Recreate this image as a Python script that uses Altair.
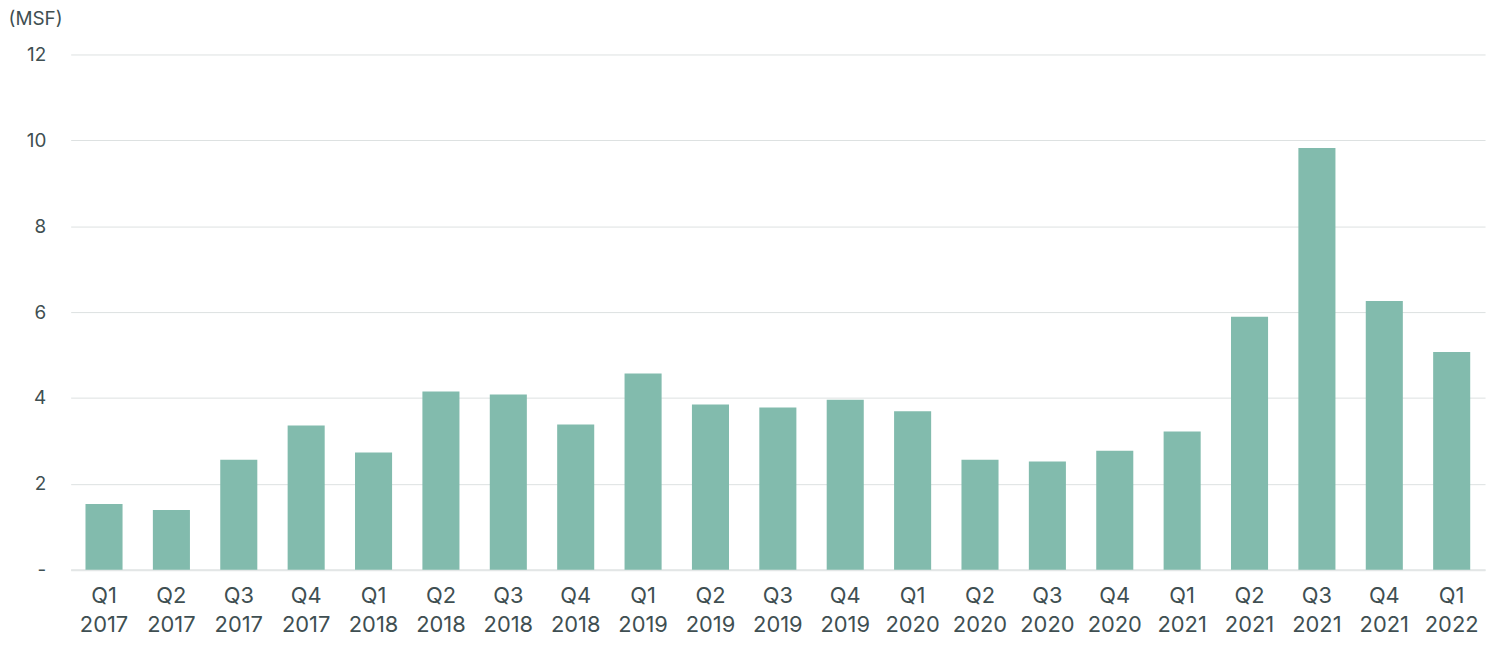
import altair as alt
import pandas as pd

quarters = ["Q1 2017", "Q2 2017", "Q3 2017", "Q4 2017",
            "Q1 2018", "Q2 2018", "Q3 2018", "Q4 2018",
            "Q1 2019", "Q2 2019", "Q3 2019", "Q4 2019",
            "Q1 2020", "Q2 2020", "Q3 2020", "Q4 2020",
            "Q1 2021", "Q2 2021", "Q3 2021", "Q4 2021",
            "Q1 2022"]
values = [1.53, 1.39, 2.56, 3.36,
          2.73, 4.15, 4.08, 3.38,
          4.57, 3.85, 3.78, 3.96,
          3.69, 2.56, 2.52, 2.77,
          3.22, 5.89, 9.82, 6.26,
          5.07]

df = pd.DataFrame({"quarter": quarters, "value": values})

font = "Inter"
text_color = "#3f4f52"

chart = alt.Chart(df).mark_bar(color="#82bbad").encode(
    x=alt.X("quarter:N", sort=quarters, title=None,
            scale=alt.Scale(paddingInner=0.45, paddingOuter=0.22),
            axis=alt.Axis(labelExpr="split(datum.label, ' ')", labelAngle=0,
                          labelFontSize=22, labelLineHeight=29, labelPadding=16,
                          labelColor=text_color, labelFont=font,
                          domain=True, domainColor="#e3e6e6", domainWidth=2,
                          ticks=False, grid=False)),
    y=alt.Y("value:Q", title="(MSF)",
            scale=alt.Scale(domain=[0, 12], nice=False),
            axis=alt.Axis(values=[0, 2, 4, 6, 8, 10, 12],
                          labelExpr="datum.value == 0 ? '-' : datum.label",
                          labelFontSize=19, labelColor=text_color, labelFont=font,
                          labelPadding=25, domain=False, ticks=False,
                          gridColor="#dde1e1", gridWidth=1,
                          titleAngle=0, titleAlign="left", titleBaseline="middle",
                          titleX=-63, titleY=-36, titleFontSize=19,
                          titleFontWeight="normal", titleColor=text_color,
                          titleFont=font)),
).properties(
    width=1422, height=518,
    padding={"left": 63, "top": 45, "right": 7, "bottom": 78},
    autosize=alt.AutoSizeParams(type="none"),
).configure_view(stroke=None)

chart.save("out.html", embed_options={"renderer": "svg", "actions": False})
